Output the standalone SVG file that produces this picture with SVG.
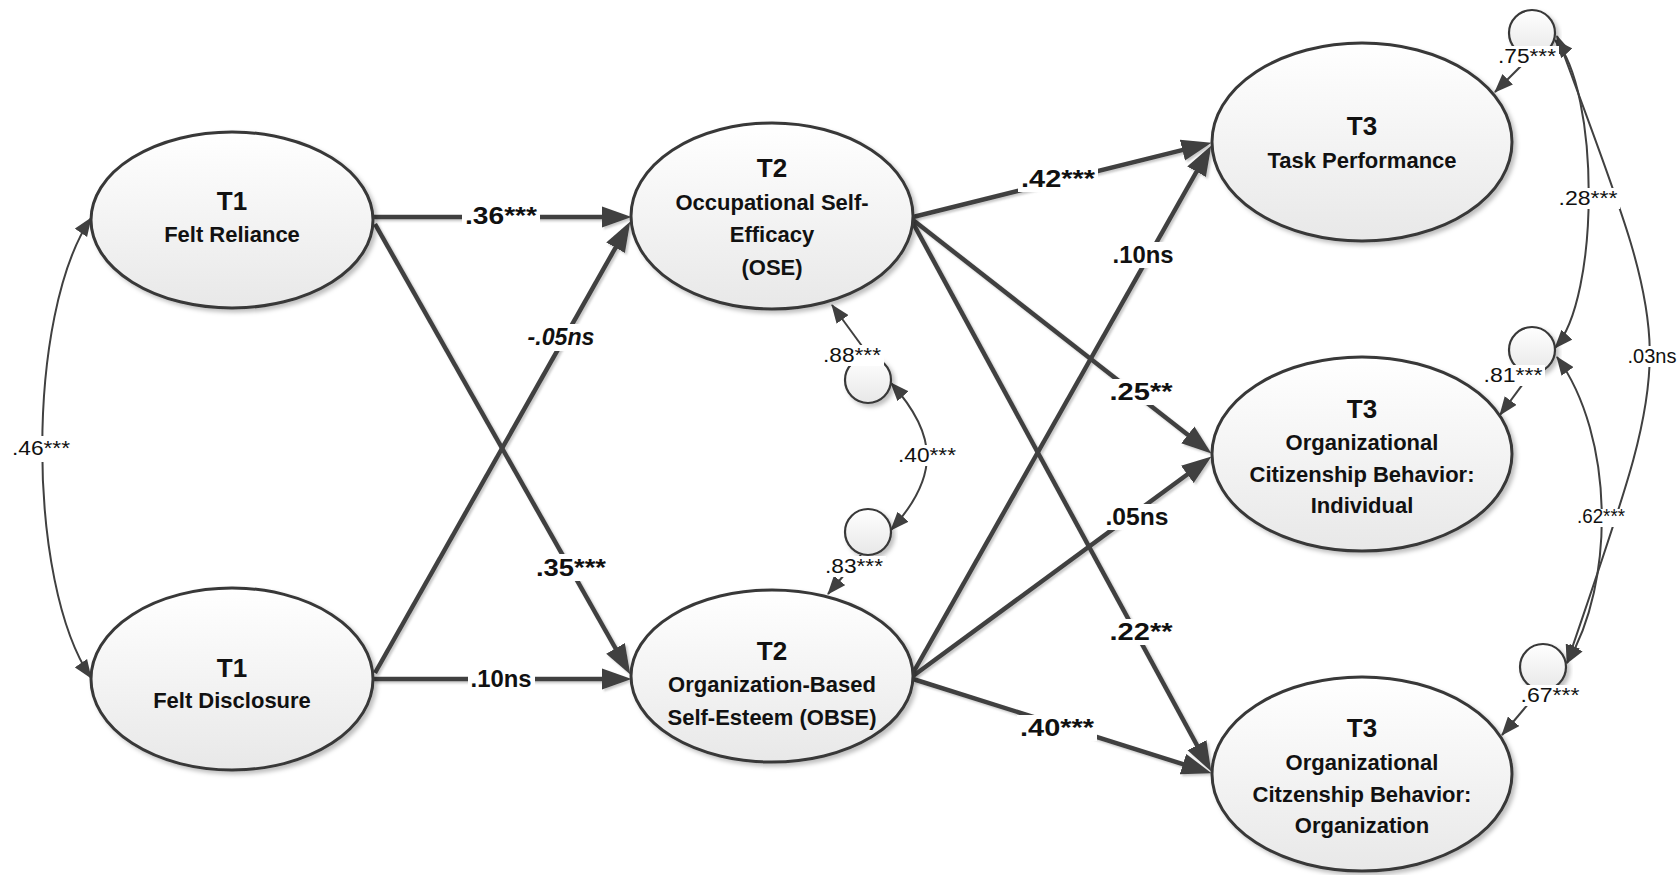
<svg xmlns="http://www.w3.org/2000/svg" width="1679" height="875" viewBox="0 0 1679 875">
<defs>
<linearGradient id="g" x1="0" y1="0" x2="0" y2="1">
<stop offset="0" stop-color="#ffffff"/>
<stop offset="1" stop-color="#e8e8e8"/>
</linearGradient>
<filter id="sh" x="-10%" y="-10%" width="125%" height="130%">
<feDropShadow dx="3" dy="3" stdDeviation="2" flood-color="#000" flood-opacity="0.25"/>
</filter>
<filter id="lsh" x="-5%" y="-5%" width="110%" height="110%">
<feDropShadow dx="2" dy="2" stdDeviation="0.8" flood-color="#888" flood-opacity="0.45"/>
</filter>
<marker id="ah" markerUnits="userSpaceOnUse" markerWidth="30" markerHeight="22" viewBox="0 0 28 20" refX="20" refY="10" orient="auto">
<path d="M0,0 L28,10 L0,20 z" fill="#404040"/>
</marker>
<marker id="ta" markerUnits="userSpaceOnUse" markerWidth="19" markerHeight="15" viewBox="0 0 18 14" refX="17" refY="7" orient="auto-start-reverse">
<path d="M0,0 L18,7 L0,14 z" fill="#404040"/>
</marker>
<style>
.node ellipse{fill:url(#g);stroke:#383838;stroke-width:3;filter:url(#sh)}
.err circle{fill:url(#g);stroke:#383838;stroke-width:2.2;filter:url(#sh)}
.t{font-family:"Liberation Sans",Arial,sans-serif;font-weight:bold;fill:#111;text-anchor:middle}
.h{font-size:26px}
.b{font-size:22px}
.path{stroke:#404040;stroke-width:4.5;fill:none;marker-end:url(#ah)}
.thin{stroke:#404040;stroke-width:2;fill:none}
.cv{marker-start:url(#ta);marker-end:url(#ta)}
.one{marker-end:url(#ta)}
.pl{font-family:"Liberation Sans",Arial,sans-serif;font-weight:bold;font-size:24px;fill:#111;text-anchor:middle}
.vl{font-family:"Liberation Sans",Arial,sans-serif;font-size:20px;fill:#111;text-anchor:middle}
.bg{fill:#fff}
</style>
</defs>
<rect width="1679" height="875" fill="#fff"/>

<g id="connectors">
<g filter="url(#lsh)">
<line class="path" x1="373" y1="217" x2="623" y2="217"/>
<line class="path" x1="375" y1="224" x2="626.1" y2="667"/>
<line class="path" x1="375" y1="673" x2="626.1" y2="229"/>
<line class="path" x1="373" y1="679" x2="623" y2="679"/>
<line class="path" x1="913" y1="217" x2="1203.2" y2="144.9"/>
<line class="path" x1="913" y1="220" x2="1204.7" y2="448.1"/>
<line class="path" x1="913" y1="223" x2="1207.2" y2="764"/>
<line class="path" x1="913" y1="673" x2="1207.1" y2="153"/>
<line class="path" x1="913" y1="676" x2="1204.6" y2="461.7"/>
<line class="path" x1="913" y1="679" x2="1203.4" y2="770.6"/>
</g>
<g>
<path class="thin cv" d="M91,218 C26,314 26,582 91,678"/>
<path class="thin cv" d="M891,383 C939,436 939,477 891,530"/>
<path class="thin cv" d="M1555,40 C1600,90 1600,298 1555,348"/>
<path class="thin cv" d="M1557,36 C1679,366 1679,333 1567,663"/>
<path class="thin cv" d="M1557,357 C1615,437 1615,583 1567,663"/>
<line class="thin one" x1="870" y1="357" x2="832" y2="305"/>
<line class="thin one" x1="861" y1="555" x2="828" y2="594"/>
<line class="thin one" x1="1531" y1="56" x2="1495" y2="92"/>
<line class="thin one" x1="1531" y1="373" x2="1500" y2="415"/>
<line class="thin one" x1="1540" y1="690" x2="1502" y2="735"/>
</g>
</g>

<g id="node-felt-reliance" class="node">
<ellipse cx="232" cy="220" rx="141" ry="88"/>
<text class="t h" x="232" y="210">T1</text>
<text class="t b" x="232" y="242">Felt Reliance</text>
</g>
<g id="node-felt-disclosure" class="node">
<ellipse cx="232" cy="679" rx="141" ry="91"/>
<text class="t h" x="232" y="677">T1</text>
<text class="t b" x="232" y="708">Felt Disclosure</text>
</g>
<g id="node-ose" class="node">
<ellipse cx="772" cy="216" rx="141" ry="93"/>
<text class="t h" x="772" y="177">T2</text>
<text class="t b" x="772" y="210">Occupational Self-</text>
<text class="t b" x="772" y="242">Efficacy</text>
<text class="t b" x="772" y="275">(OSE)</text>
</g>
<g id="node-obse" class="node">
<ellipse cx="772" cy="676" rx="141" ry="86"/>
<text class="t h" x="772" y="660">T2</text>
<text class="t b" x="772" y="692">Organization-Based</text>
<text class="t b" x="772" y="725">Self-Esteem (OBSE)</text>
</g>
<g id="node-task" class="node">
<ellipse cx="1362" cy="142" rx="150" ry="99"/>
<text class="t h" x="1362" y="135">T3</text>
<text class="t b" x="1362" y="168">Task Performance</text>
</g>
<g id="node-ocbi" class="node">
<ellipse cx="1362" cy="454" rx="150" ry="97"/>
<text class="t h" x="1362" y="418">T3</text>
<text class="t b" x="1362" y="450">Organizational</text>
<text class="t b" x="1362" y="482">Citizenship Behavior:</text>
<text class="t b" x="1362" y="513">Individual</text>
</g>
<g id="node-ocbo" class="node">
<ellipse cx="1362" cy="774" rx="150" ry="97"/>
<text class="t h" x="1362" y="737">T3</text>
<text class="t b" x="1362" y="770">Organizational</text>
<text class="t b" x="1362" y="802">Citzenship Behavior:</text>
<text class="t b" x="1362" y="833">Organization</text>
</g>

<g id="error-terms" class="err">
<circle cx="868" cy="380" r="23"/>
<circle cx="868" cy="532" r="23"/>
<circle cx="1532" cy="33" r="23"/>
<circle cx="1532" cy="350" r="23"/>
<circle cx="1543" cy="667" r="23"/>
</g>

<g id="path-labels">
<rect class="bg" x="462" y="203" width="78" height="26"/>
<text class="pl" x="501" y="224" textLength="72" lengthAdjust="spacingAndGlyphs">.36***</text>
<rect class="bg" x="525" y="324" width="73" height="27"/>
<text class="pl" x="561" y="345" font-style="italic" textLength="67" lengthAdjust="spacingAndGlyphs">-.05ns</text>
<rect class="bg" x="533" y="554" width="76" height="27"/>
<text class="pl" x="571" y="576" textLength="70" lengthAdjust="spacingAndGlyphs">.35***</text>
<rect class="bg" x="468" y="666" width="67" height="26"/>
<text class="pl" x="501" y="687" textLength="61" lengthAdjust="spacingAndGlyphs">.10ns</text>
<rect class="bg" x="1018" y="166" width="80" height="26"/>
<text class="pl" x="1058" y="187" textLength="74" lengthAdjust="spacingAndGlyphs">.42***</text>
<rect class="bg" x="1109" y="242" width="67" height="26"/>
<text class="pl" x="1143" y="263" textLength="61" lengthAdjust="spacingAndGlyphs">.10ns</text>
<rect class="bg" x="1107" y="379" width="69" height="26"/>
<text class="pl" x="1141" y="400" textLength="63" lengthAdjust="spacingAndGlyphs">.25**</text>
<rect class="bg" x="1103" y="504" width="69" height="26"/>
<text class="pl" x="1137" y="525" textLength="63" lengthAdjust="spacingAndGlyphs">.05ns</text>
<rect class="bg" x="1107" y="619" width="69" height="26"/>
<text class="pl" x="1141" y="640" textLength="63" lengthAdjust="spacingAndGlyphs">.22**</text>
<rect class="bg" x="1017" y="715" width="80" height="26"/>
<text class="pl" x="1057" y="736" textLength="74" lengthAdjust="spacingAndGlyphs">.40***</text>
</g>

<g id="variance-labels">
<rect class="bg" x="10" y="436" width="62" height="26"/>
<text class="vl" x="41" y="455" textLength="58" lengthAdjust="spacingAndGlyphs">.46***</text>
<rect class="bg" x="821" y="345" width="63" height="21"/>
<text class="vl" x="852" y="362" textLength="58" lengthAdjust="spacingAndGlyphs">.88***</text>
<rect class="bg" x="823" y="556" width="63" height="21"/>
<text class="vl" x="854" y="573" textLength="58" lengthAdjust="spacingAndGlyphs">.83***</text>
<rect class="bg" x="896" y="445" width="63" height="21"/>
<text class="vl" x="927" y="462" textLength="58" lengthAdjust="spacingAndGlyphs">.40***</text>
<rect class="bg" x="1496" y="46" width="63" height="21"/>
<text class="vl" x="1527" y="63" textLength="58" lengthAdjust="spacingAndGlyphs">.75***</text>
<rect class="bg" x="1481" y="365" width="64" height="21"/>
<text class="vl" x="1513" y="382" textLength="59" lengthAdjust="spacingAndGlyphs">.81***</text>
<rect class="bg" x="1518" y="685" width="64" height="21"/>
<text class="vl" x="1550" y="702" textLength="59" lengthAdjust="spacingAndGlyphs">.67***</text>
<rect class="bg" x="1556" y="188" width="64" height="21"/>
<text class="vl" x="1588" y="205" textLength="59" lengthAdjust="spacingAndGlyphs">.28***</text>
<rect class="bg" x="1626" y="346" width="53" height="21"/>
<text class="vl" x="1652" y="363" textLength="49" lengthAdjust="spacingAndGlyphs">.03ns</text>
<rect class="bg" x="1575" y="509" width="52" height="18"/>
<text class="vl" x="1601" y="523" font-size="16" textLength="48" lengthAdjust="spacingAndGlyphs">.62***</text>
</g>
</svg>
